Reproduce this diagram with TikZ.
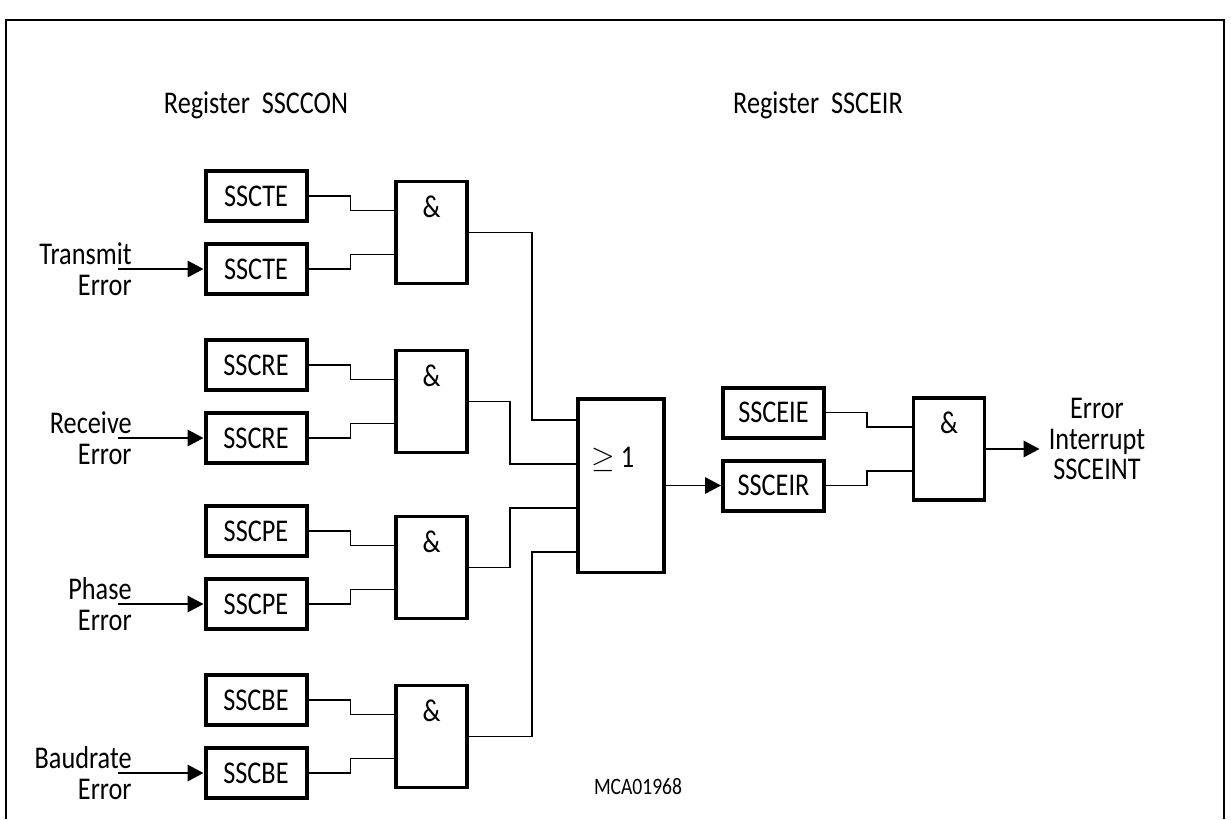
\documentclass[tikz,border=0pt]{standalone}
\usepackage{fontspec}
\setmainfont[FakeStretch=0.83]{Carlito}
\usetikzlibrary{arrows.meta,positioning,calc}
\tikzset{
  lbl/.style={font=\fontsize{18}{17.6}\selectfont, inner sep=0pt, align=center},
  reg/.style={rectangle, draw=black, line width=.8mm, outer sep=0pt, lbl,
              minimum width=20.2mm, minimum height=10mm},
  gate/.style={rectangle, draw=black, line width=.7mm, outer sep=0pt,
               minimum width=14.2mm, minimum height=20.4mm,
               label={[lbl,anchor=center,yshift=-5mm]north:\&}},
  orgate/.style={rectangle, draw=black, line width=.7mm, outer sep=0pt,
                 minimum width=17.2mm, minimum height=34.7mm},
  wire/.style={draw=black, line width=.36mm},
  ar/.style={-{Triangle[length=3.2mm,width=3.3mm]}, wire, shorten >=.4mm},
}
\begin{document}
\begin{tikzpicture}[x=.2mm,y=-.2mm]
\useasboundingbox (0,0) rectangle (1231,819);
\coordinate (frameA) at (6,819); \coordinate (frameB) at (6,20);
\coordinate (frameC) at (1224,20); \coordinate (frameD) at (1224,819);
\draw[line width=.45mm] (frameA) -- (frameB) -- (frameC) -- (frameD);

\node[lbl] (hdrcon) at (256,105) {Register\ \ SSCCON};
\node[lbl] (hdreir) at (818,105) {Register\ \ SSCEIR};

\node[reg] (tec) at (256,196) {SSCTE};
\node[reg,below=4.6mm of tec] (tea) {SSCTE};
\node[reg,below=9.2mm of tea] (rec) {SSCRE};
\node[reg,below=4.6mm of rec] (rea) {SSCRE};
\node[reg,below=8.6mm of rea] (pec) {SSCPE};
\node[reg,below=4.6mm of pec] (pea) {SSCPE};
\node[reg,below=9.2mm of pea] (bec) {SSCBE};
\node[reg,below=4.6mm of bec] (bea) {SSCBE};

\node[gate,right=17.9mm of $(tec.east)!.5!(tea.east)$] (andte) {};
\node[gate,right=17.9mm of $(rec.east)!.5!(rea.east)$] (andre) {};
\node[gate,right=17.9mm of $(pec.east)!.5!(pea.east)$] (andpe) {};
\node[gate,right=17.9mm of $(bec.east)!.5!(bea.east)$] (andbe) {};

\node[orgate] (orall) at (621,485.5) {};
\node[lbl] (orsym) at (613,459) {$\geq$\,1};

\node[reg,right=11.8mm of orall] (eir) {SSCEIR};
\node[reg,above=4.6mm of eir] (eie) {SSCEIE};
\node[gate,right=17.9mm of $(eie.east)!.5!(eir.east)$] (andei) {};

\node[lbl,align=right,left=14.7mm of tea] (txerr) {Transmit\\Error};
\node[lbl,align=right,left=14.7mm of rea] (rxerr) {Receive\\Error};
\node[lbl,align=right,left=14.7mm of pea] (pherr) {Phase\\Error};
\node[lbl,align=right,left=14.7mm of bea] (bderr) {Baudrate\\Error};
\node[lbl,right=12.8mm of andei,yshift=2mm] (errint) {Error\\Interrupt\\SSCEINT};
\node[lbl,font=\fontsize{13.4}{14}\selectfont] (figid) at (638,787) {MCA01968};

\coordinate[left=17.4mm of tea] (txin);
\coordinate[left=17.4mm of rea] (rxin);
\coordinate[left=17.4mm of pea] (phin);
\coordinate[left=17.4mm of bea] (bdin);
\coordinate[right=11.4mm of andei] (intout);

\draw[ar] (txin) -- (tea.west);
\draw[ar] (rxin) -- (rea.west);
\draw[ar] (phin) -- (pea.west);
\draw[ar] (bdin) -- (bea.west);

\draw[wire] (tec.east) -- ++(44,0) |- ($(andte.west)+(0,-22)$);
\draw[wire] (tea.east) -- ++(44,0) |- ($(andte.west)+(0,22)$);
\draw[wire] (rec.east) -- ++(44,0) |- ($(andre.west)+(0,-22)$);
\draw[wire] (rea.east) -- ++(44,0) |- ($(andre.west)+(0,22)$);
\draw[wire] (pec.east) -- ++(44,0) |- ($(andpe.west)+(0,-22)$);
\draw[wire] (pea.east) -- ++(44,0) |- ($(andpe.west)+(0,22)$);
\draw[wire] (bec.east) -- ++(44,0) |- ($(andbe.west)+(0,-22)$);
\draw[wire] (bea.east) -- ++(44,0) |- ($(andbe.west)+(0,22)$);

\draw[wire] (andte.east) -- ++(65,0) |- ($(orall.west)+(0,-65.5)$);
\draw[wire] (andre.east) -- ++(43,0) |- ($(orall.west)+(0,-21.5)$);
\draw[wire] (andpe.east) -- ++(43,0) |- ($(orall.west)+(0,22.5)$);
\draw[wire] (andbe.east) -- ++(65,0) |- ($(orall.west)+(0,66.5)$);

\draw[ar] (orall.east |- eir) -- (eir.west);
\draw[wire] (eie.east) -- ++(43,0) |- ($(andei.west)+(0,-22)$);
\draw[wire] (eir.east) -- ++(43,0) |- ($(andei.west)+(0,22)$);
\draw[ar] (andei.east) -- (intout);
\end{tikzpicture}
\end{document}
